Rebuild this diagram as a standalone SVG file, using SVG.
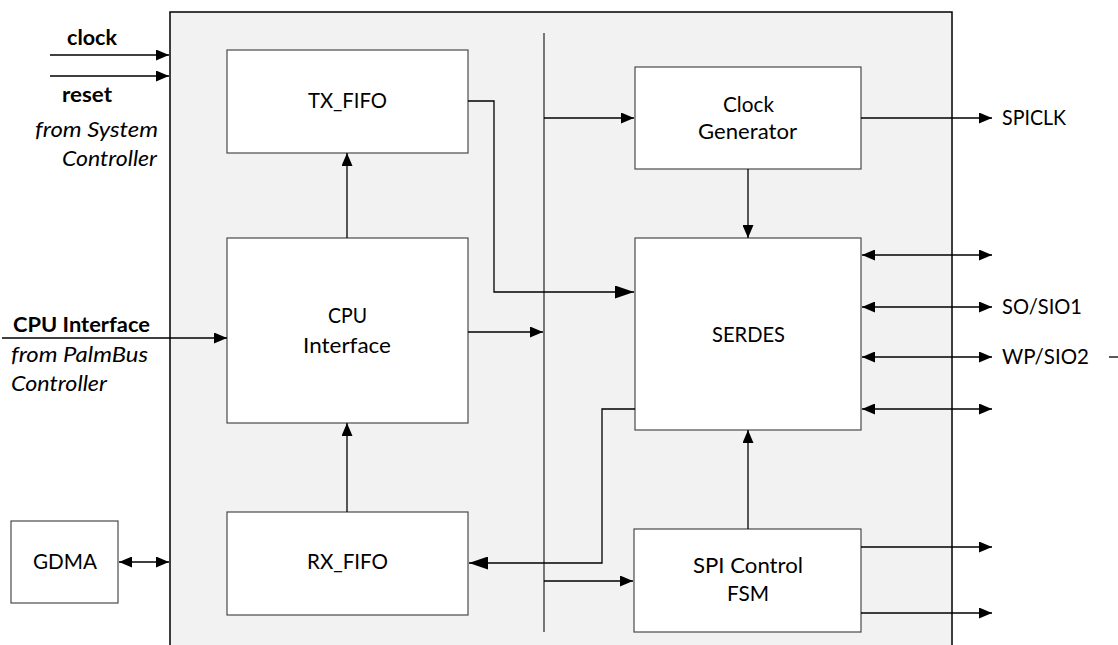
<svg xmlns="http://www.w3.org/2000/svg" width="1118" height="645" viewBox="0 0 1118 645">
<style>
.box{fill:#ffffff;stroke:#4a4a4a;stroke-width:1.2}
.outer{fill:#f2f2f2;stroke:#000;stroke-width:1.5}
.ln{fill:none;stroke:#000;stroke-width:1.3}
.bus{fill:none;stroke:#333;stroke-width:1.3}
text{font-family:Lato,"Liberation Sans",Arial,sans-serif;font-size:21px;fill:#000}
.b{font-weight:bold}
.i{font-style:italic}
.m{text-anchor:middle}
</style>
<defs>
<marker id="a" markerUnits="userSpaceOnUse" markerWidth="13" markerHeight="11" refX="13" refY="5.5" orient="auto">
<path d="M0,0 L13,5.5 L0,11 Z" fill="#000"/>
</marker>
<marker id="as" markerUnits="userSpaceOnUse" markerWidth="13" markerHeight="11" refX="0" refY="5.5" orient="auto">
<path d="M13,0 L0,5.5 L13,11 Z" fill="#000"/>
</marker>
<marker id="A" markerUnits="userSpaceOnUse" markerWidth="19" markerHeight="13" refX="19" refY="6.5" orient="auto">
<path d="M0,0 L19,6.5 L0,13 Z" fill="#000"/>
</marker>
</defs>

<rect class="outer" x="170" y="12" width="782" height="650"/>

<g id="tx_fifo"><rect class="box" x="227" y="50" width="241" height="103"/><text x="308" y="108" textLength="79" lengthAdjust="spacingAndGlyphs">TX_FIFO</text></g>
<g id="cpu_if"><rect class="box" x="227" y="238" width="241" height="185"/><text x="328" y="323" textLength="39" lengthAdjust="spacingAndGlyphs">CPU</text><text x="303" y="353" textLength="88" lengthAdjust="spacingAndGlyphs">Interface</text></g>
<g id="rx_fifo"><rect class="box" x="227" y="512" width="241" height="103"/><text x="307" y="569" textLength="81" lengthAdjust="spacingAndGlyphs">RX_FIFO</text></g>
<g id="gdma"><rect class="box" x="11" y="521" width="107" height="82"/><text x="33" y="569" textLength="64" lengthAdjust="spacingAndGlyphs">GDMA</text></g>
<g id="clkgen"><rect class="box" x="635" y="67" width="226" height="102"/><text x="723" y="112" textLength="51" lengthAdjust="spacingAndGlyphs">Clock</text><text x="698" y="139" textLength="99" lengthAdjust="spacingAndGlyphs">Generator</text></g>
<g id="serdes"><rect class="box" x="635" y="238" width="226" height="192"/><text x="712" y="342" textLength="73" lengthAdjust="spacingAndGlyphs">SERDES</text></g>
<g id="spifsm"><rect class="box" x="634" y="529" width="227" height="103"/><text x="693" y="573" textLength="110" lengthAdjust="spacingAndGlyphs">SPI Control</text><text x="727" y="601" textLength="42" lengthAdjust="spacingAndGlyphs">FSM</text></g>

<g id="labels">
<text class="b" x="67" y="45" textLength="50" lengthAdjust="spacingAndGlyphs">clock</text>
<text class="b" x="62" y="102" textLength="50" lengthAdjust="spacingAndGlyphs">reset</text>
<text class="i" x="35" y="137" textLength="123" lengthAdjust="spacingAndGlyphs">from System</text>
<text class="i" x="62" y="166" textLength="95" lengthAdjust="spacingAndGlyphs">Controller</text>
<text class="b" x="13" y="332" textLength="137" lengthAdjust="spacingAndGlyphs">CPU Interface</text>
<text class="i" x="11" y="362" textLength="137" lengthAdjust="spacingAndGlyphs">from PalmBus</text>
<text class="i" x="11" y="391" textLength="96" lengthAdjust="spacingAndGlyphs">Controller</text>
<text x="1002" y="125" textLength="64" lengthAdjust="spacingAndGlyphs">SPICLK</text>
<text x="1002" y="314" textLength="80" lengthAdjust="spacingAndGlyphs">SO/SIO1</text>
<text x="1002" y="364" textLength="87" lengthAdjust="spacingAndGlyphs">WP/SIO2</text>
</g>

<g id="connectors">
<line class="bus" x1="544" y1="33" x2="544" y2="632"/>
<line class="ln" x1="50" y1="55" x2="169" y2="55" marker-end="url(#a)"/>
<line class="ln" x1="50" y1="76" x2="169" y2="76" marker-end="url(#a)"/>
<line class="ln" x1="2" y1="338" x2="227" y2="338" marker-end="url(#a)"/>
<line class="ln" x1="119" y1="562" x2="169" y2="562" marker-start="url(#as)" marker-end="url(#a)"/>
<line class="ln" x1="347" y1="238" x2="347" y2="153" marker-end="url(#a)"/>
<line class="ln" x1="347" y1="512" x2="347" y2="423" marker-end="url(#a)"/>
<line class="ln" x1="468" y1="332" x2="543" y2="332" marker-end="url(#a)"/>
<polyline class="ln" points="468,101 494,101 494,292 634,292" marker-end="url(#A)"/>
<line class="ln" x1="544" y1="118" x2="634" y2="118" marker-end="url(#a)"/>
<line class="ln" x1="748" y1="169" x2="748" y2="238" marker-end="url(#a)"/>
<line class="ln" x1="748" y1="529" x2="748" y2="430" marker-end="url(#a)"/>
<polyline class="ln" points="635,409 602,409 602,563 469,563" marker-end="url(#A)"/>
<line class="ln" x1="544" y1="581" x2="633" y2="581" marker-end="url(#a)"/>
<line class="ln" x1="861" y1="118" x2="992" y2="118" marker-end="url(#a)"/>
<line class="ln" x1="862" y1="255" x2="992" y2="255" marker-start="url(#as)" marker-end="url(#a)"/>
<line class="ln" x1="862" y1="307" x2="992" y2="307" marker-start="url(#as)" marker-end="url(#a)"/>
<line class="ln" x1="862" y1="357" x2="992" y2="357" marker-start="url(#as)" marker-end="url(#a)"/>
<line class="ln" x1="862" y1="409" x2="992" y2="409" marker-start="url(#as)" marker-end="url(#a)"/>
<line class="ln" x1="861" y1="547" x2="992" y2="547" marker-end="url(#a)"/>
<line class="ln" x1="861" y1="613" x2="992" y2="613" marker-end="url(#a)"/>
<line class="ln" x1="1109" y1="357" x2="1118" y2="357"/>
</g>
</svg>
